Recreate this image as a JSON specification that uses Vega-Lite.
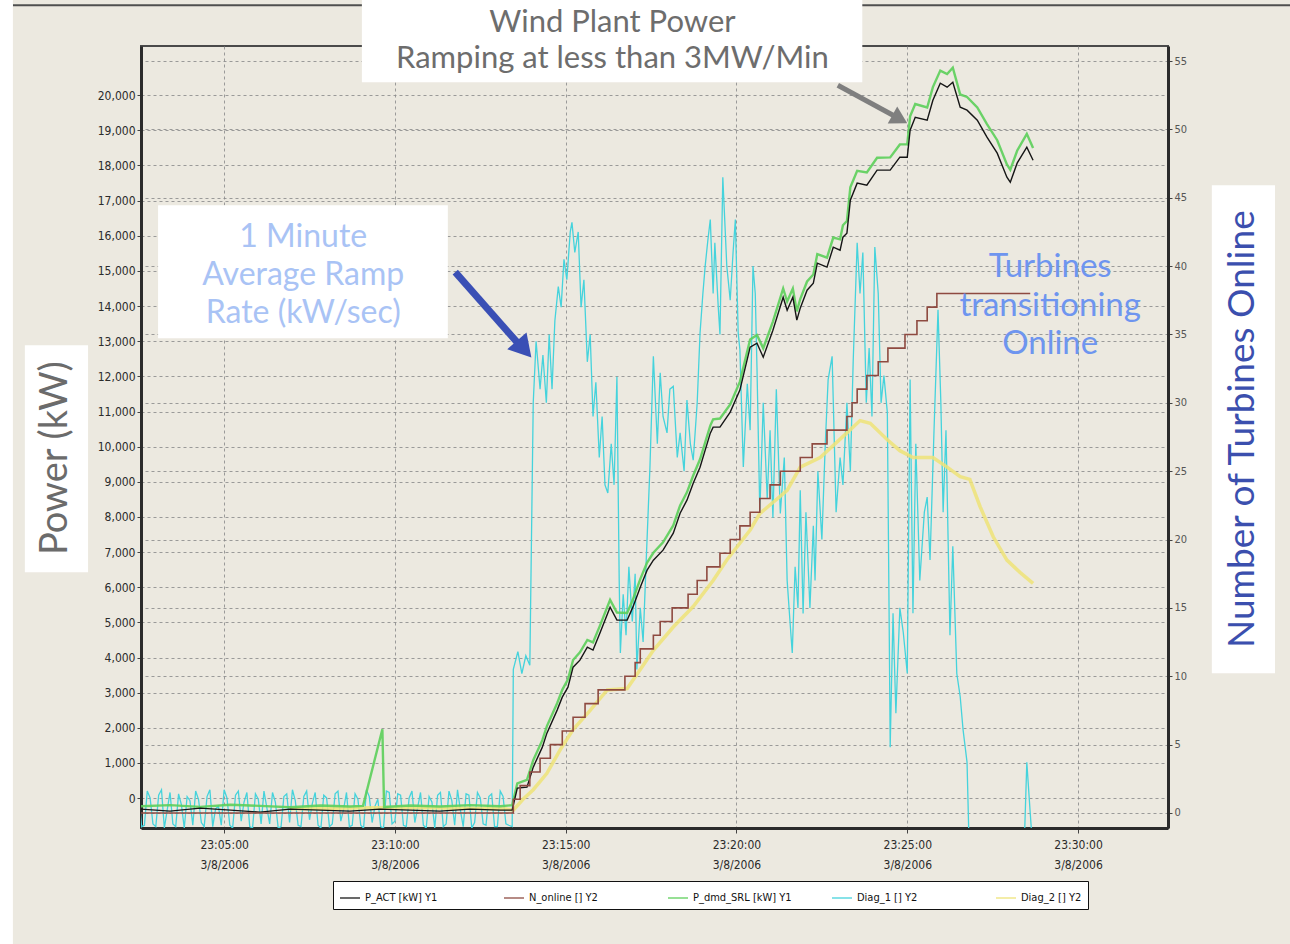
{
"$schema": "https://vega.github.io/schema/vega-lite/v6.json",
"width": 1027,
"height": 782,
"autosize": "none",
"padding": {"left": 141, "top": 46, "right": 122, "bottom": 116},
"background": "#ece9e0",
"config": {
  "view": {"fill": "#ece9e0", "stroke": "#4a4a4a", "strokeWidth": 2},
  "font": "Lato",
  "axis": {"labelFont": "DejaVu Sans Condensed, Liberation Sans, sans-serif", "labelColor": "#2b2b2b", "labelFontSize": 12, "tickColor": "#444444", "tickSize": 4, "domainColor": "#2b2b2b", "domainWidth": 3, "gridColor": "#8c8c8c", "gridDash": [3, 3], "gridOpacity": 0.85, "gridWidth": 1},
  "legend": {"orient": "none", "legendX": 192, "legendY": 835, "direction": "horizontal", "columns": 5, "gridAlign": "all", "columnPadding": 37, "fillColor": "#ffffff", "strokeColor": "#111111", "padding": 6, "symbolType": "stroke", "symbolSize": 400, "symbolStrokeWidth": 1.5, "labelFont": "DejaVu Sans Condensed, Liberation Sans, sans-serif", "labelFontSize": 11, "labelColor": "#111111", "labelLimit": 200},
  "text": {"lineBreak": "\n"}
},
"datasets": {
  "pact": [
    {"t":"2006-03-08T23:02:34","v":-313},{"t":"2006-03-08T23:03:25","v":-370},{"t":"2006-03-08T23:04:18","v":-285},{"t":"2006-03-08T23:05:11","v":-341},{"t":"2006-03-08T23:06:03","v":-398},{"t":"2006-03-08T23:06:56","v":-313},{"t":"2006-03-08T23:07:49","v":-341},{"t":"2006-03-08T23:08:41","v":-370},{"t":"2006-03-08T23:09:34","v":-313},{"t":"2006-03-08T23:10:27","v":-341},{"t":"2006-03-08T23:11:19","v":-370},{"t":"2006-03-08T23:12:12","v":-313},{"t":"2006-03-08T23:13:05","v":-341},{"t":"2006-03-08T23:13:26","v":-341},
    {"t":"2006-03-08T23:13:35","v":285},{"t":"2006-03-08T23:13:52","v":313},{"t":"2006-03-08T23:14:03","v":882},{"t":"2006-03-08T23:14:19","v":1451},{"t":"2006-03-08T23:14:27","v":1849},{"t":"2006-03-08T23:14:45","v":2504},{"t":"2006-03-08T23:14:54","v":2873},{"t":"2006-03-08T23:15:04","v":3158},{"t":"2006-03-08T23:15:13","v":3727},{"t":"2006-03-08T23:15:25","v":3926},{"t":"2006-03-08T23:15:38","v":4296},{"t":"2006-03-08T23:15:48","v":4211},{"t":"2006-03-08T23:16:00","v":4694},{"t":"2006-03-08T23:16:18","v":5434},{"t":"2006-03-08T23:16:30","v":5064},{"t":"2006-03-08T23:16:48","v":5064},{"t":"2006-03-08T23:16:58","v":5434},{"t":"2006-03-08T23:17:11","v":6003},{"t":"2006-03-08T23:17:23","v":6487},{"t":"2006-03-08T23:17:34","v":6771},{"t":"2006-03-08T23:17:51","v":7056},{"t":"2006-03-08T23:18:09","v":7539},{"t":"2006-03-08T23:18:21","v":8108},{"t":"2006-03-08T23:18:33","v":8478},{"t":"2006-03-08T23:18:44","v":8962},{"t":"2006-03-08T23:18:56","v":9417},{"t":"2006-03-08T23:19:14","v":10384},{"t":"2006-03-08T23:19:19","v":10555},{"t":"2006-03-08T23:19:31","v":10555},{"t":"2006-03-08T23:19:49","v":10982},{"t":"2006-03-08T23:20:06","v":11608},{"t":"2006-03-08T23:20:24","v":12831},{"t":"2006-03-08T23:20:36","v":12945},{"t":"2006-03-08T23:20:47","v":12546},{"t":"2006-03-08T23:21:04","v":13315},{"t":"2006-03-08T23:21:22","v":14253},{"t":"2006-03-08T23:21:29","v":13884},{"t":"2006-03-08T23:21:39","v":14253},{"t":"2006-03-08T23:21:46","v":13599},{"t":"2006-03-08T23:21:52","v":13941},{"t":"2006-03-08T23:22:04","v":14453},{"t":"2006-03-08T23:22:15","v":14652},{"t":"2006-03-08T23:22:22","v":15221},{"t":"2006-03-08T23:22:39","v":15107},{"t":"2006-03-08T23:22:50","v":15676},{"t":"2006-03-08T23:23:02","v":15591},{"t":"2006-03-08T23:23:07","v":15961},{"t":"2006-03-08T23:23:14","v":16074},{"t":"2006-03-08T23:23:20","v":17013},{"t":"2006-03-08T23:23:32","v":17497},{"t":"2006-03-08T23:23:49","v":17440},{"t":"2006-03-08T23:24:07","v":17867},{"t":"2006-03-08T23:24:30","v":17867},{"t":"2006-03-08T23:24:47","v":18236},{"t":"2006-03-08T23:25:00","v":18236},{"t":"2006-03-08T23:25:05","v":19005},{"t":"2006-03-08T23:25:14","v":19374},{"t":"2006-03-08T23:25:35","v":19289},{"t":"2006-03-08T23:25:45","v":19858},{"t":"2006-03-08T23:25:58","v":20342},{"t":"2006-03-08T23:26:10","v":20228},{"t":"2006-03-08T23:26:20","v":20370},{"t":"2006-03-08T23:26:33","v":19659},{"t":"2006-03-08T23:26:45","v":19574},{"t":"2006-03-08T23:27:03","v":19289},{"t":"2006-03-08T23:27:20","v":18805},{"t":"2006-03-08T23:27:38","v":18350},{"t":"2006-03-08T23:27:55","v":17667},{"t":"2006-03-08T23:28:01","v":17525},{"t":"2006-03-08T23:28:13","v":18066},{"t":"2006-03-08T23:28:30","v":18521},{"t":"2006-03-08T23:28:41","v":18151}
  ],
  "pdmd": [
    {"t":"2006-03-08T23:02:34","v":-230},{"t":"2006-03-08T23:03:25","v":-200},{"t":"2006-03-08T23:04:18","v":-250},{"t":"2006-03-08T23:05:11","v":-190},{"t":"2006-03-08T23:06:03","v":-220},{"t":"2006-03-08T23:06:56","v":-260},{"t":"2006-03-08T23:07:49","v":-210},{"t":"2006-03-08T23:08:41","v":-240},{"t":"2006-03-08T23:09:04","v":-220},{"t":"2006-03-08T23:09:38","v":1960},{"t":"2006-03-08T23:09:41","v":-250},{"t":"2006-03-08T23:10:27","v":-210},{"t":"2006-03-08T23:11:19","v":-240},{"t":"2006-03-08T23:12:12","v":-200},{"t":"2006-03-08T23:13:05","v":-230},{"t":"2006-03-08T23:13:26","v":-200},
    {"t":"2006-03-08T23:13:35","v":420},{"t":"2006-03-08T23:13:52","v":520},{"t":"2006-03-08T23:14:03","v":1080},{"t":"2006-03-08T23:14:19","v":1650},{"t":"2006-03-08T23:14:27","v":2050},{"t":"2006-03-08T23:14:45","v":2700},{"t":"2006-03-08T23:14:54","v":3080},{"t":"2006-03-08T23:15:04","v":3380},{"t":"2006-03-08T23:15:13","v":3930},{"t":"2006-03-08T23:15:25","v":4150},{"t":"2006-03-08T23:15:38","v":4500},{"t":"2006-03-08T23:15:48","v":4430},{"t":"2006-03-08T23:16:00","v":4900},{"t":"2006-03-08T23:16:18","v":5640},{"t":"2006-03-08T23:16:30","v":5280},{"t":"2006-03-08T23:16:48","v":5270},{"t":"2006-03-08T23:16:58","v":5650},{"t":"2006-03-08T23:17:11","v":6230},{"t":"2006-03-08T23:17:23","v":6700},{"t":"2006-03-08T23:17:34","v":6980},{"t":"2006-03-08T23:17:51","v":7280},{"t":"2006-03-08T23:18:09","v":7760},{"t":"2006-03-08T23:18:21","v":8330},{"t":"2006-03-08T23:18:33","v":8700},{"t":"2006-03-08T23:18:44","v":9180},{"t":"2006-03-08T23:18:56","v":9640},{"t":"2006-03-08T23:19:14","v":10600},{"t":"2006-03-08T23:19:19","v":10780},{"t":"2006-03-08T23:19:31","v":10800},{"t":"2006-03-08T23:19:49","v":11200},{"t":"2006-03-08T23:20:06","v":11850},{"t":"2006-03-08T23:20:24","v":13050},{"t":"2006-03-08T23:20:36","v":13180},{"t":"2006-03-08T23:20:47","v":12800},{"t":"2006-03-08T23:21:04","v":13560},{"t":"2006-03-08T23:21:22","v":14500},{"t":"2006-03-08T23:21:29","v":14130},{"t":"2006-03-08T23:21:39","v":14500},{"t":"2006-03-08T23:21:46","v":13850},{"t":"2006-03-08T23:21:52","v":14200},{"t":"2006-03-08T23:22:04","v":14700},{"t":"2006-03-08T23:22:15","v":14900},{"t":"2006-03-08T23:22:22","v":15480},{"t":"2006-03-08T23:22:39","v":15380},{"t":"2006-03-08T23:22:50","v":15950},{"t":"2006-03-08T23:23:02","v":15900},{"t":"2006-03-08T23:23:07","v":16300},{"t":"2006-03-08T23:23:14","v":16420},{"t":"2006-03-08T23:23:20","v":17380},{"t":"2006-03-08T23:23:32","v":17850},{"t":"2006-03-08T23:23:49","v":17800},{"t":"2006-03-08T23:24:07","v":18220},{"t":"2006-03-08T23:24:30","v":18230},{"t":"2006-03-08T23:24:47","v":18600},{"t":"2006-03-08T23:25:00","v":18600},{"t":"2006-03-08T23:25:05","v":19400},{"t":"2006-03-08T23:25:14","v":19750},{"t":"2006-03-08T23:25:35","v":19650},{"t":"2006-03-08T23:25:45","v":20230},{"t":"2006-03-08T23:25:58","v":20700},{"t":"2006-03-08T23:26:10","v":20600},{"t":"2006-03-08T23:26:20","v":20780},{"t":"2006-03-08T23:26:33","v":20020},{"t":"2006-03-08T23:26:45","v":19950},{"t":"2006-03-08T23:27:03","v":19650},{"t":"2006-03-08T23:27:20","v":19180},{"t":"2006-03-08T23:27:38","v":18720},{"t":"2006-03-08T23:27:55","v":18030},{"t":"2006-03-08T23:28:01","v":17880},{"t":"2006-03-08T23:28:13","v":18420},{"t":"2006-03-08T23:28:30","v":18900},{"t":"2006-03-08T23:28:41","v":18500}
  ],
  "online": [
    {"t":"2006-03-08T23:02:34","v":0},{"t":"2006-03-08T23:13:28","v":1},{"t":"2006-03-08T23:13:40","v":2},{"t":"2006-03-08T23:13:57","v":3},{"t":"2006-03-08T23:14:15","v":4},{"t":"2006-03-08T23:14:33","v":5},{"t":"2006-03-08T23:14:54","v":6},{"t":"2006-03-08T23:15:13","v":7},{"t":"2006-03-08T23:15:34","v":8},{"t":"2006-03-08T23:15:57","v":9},{"t":"2006-03-08T23:16:44","v":10},{"t":"2006-03-08T23:17:02","v":11},{"t":"2006-03-08T23:17:11","v":12},{"t":"2006-03-08T23:17:34","v":13},{"t":"2006-03-08T23:17:46","v":14},{"t":"2006-03-08T23:18:07","v":15},{"t":"2006-03-08T23:18:35","v":16},{"t":"2006-03-08T23:18:51","v":17},{"t":"2006-03-08T23:19:08","v":18},{"t":"2006-03-08T23:19:31","v":19},{"t":"2006-03-08T23:19:49","v":20},{"t":"2006-03-08T23:20:06","v":21},{"t":"2006-03-08T23:20:24","v":22},{"t":"2006-03-08T23:20:41","v":23},{"t":"2006-03-08T23:20:59","v":24},{"t":"2006-03-08T23:21:17","v":25},{"t":"2006-03-08T23:21:52","v":26},{"t":"2006-03-08T23:22:13","v":27},{"t":"2006-03-08T23:22:39","v":28},{"t":"2006-03-08T23:23:14","v":29},{"t":"2006-03-08T23:23:23","v":30},{"t":"2006-03-08T23:23:32","v":31},{"t":"2006-03-08T23:23:49","v":32},{"t":"2006-03-08T23:24:09","v":33},{"t":"2006-03-08T23:24:26","v":34},{"t":"2006-03-08T23:24:56","v":35},{"t":"2006-03-08T23:25:17","v":36},{"t":"2006-03-08T23:25:35","v":37},{"t":"2006-03-08T23:25:52","v":38},{"t":"2006-03-08T23:28:36","v":38}
  ],
  "diag2": [
    {"t":"2006-03-08T23:06:56","v":0.3},{"t":"2006-03-08T23:10:09","v":0.4},{"t":"2006-03-08T23:13:14","v":0.3},{"t":"2006-03-08T23:13:28","v":0.2},{"t":"2006-03-08T23:13:45","v":1.0},{"t":"2006-03-08T23:14:03","v":1.7},{"t":"2006-03-08T23:14:27","v":2.9},{"t":"2006-03-08T23:14:50","v":4.6},{"t":"2006-03-08T23:15:13","v":6.1},{"t":"2006-03-08T23:15:43","v":7.5},{"t":"2006-03-08T23:16:13","v":9.0},{"t":"2006-03-08T23:16:48","v":9.1},{"t":"2006-03-08T23:17:11","v":10.5},{"t":"2006-03-08T23:17:34","v":11.9},{"t":"2006-03-08T23:18:09","v":13.6},{"t":"2006-03-08T23:18:44","v":15.1},{"t":"2006-03-08T23:19:19","v":17.0},{"t":"2006-03-08T23:19:43","v":18.5},{"t":"2006-03-08T23:20:24","v":20.7},{"t":"2006-03-08T23:20:41","v":21.9},{"t":"2006-03-08T23:21:29","v":23.6},{"t":"2006-03-08T23:21:52","v":25.3},{"t":"2006-03-08T23:22:27","v":26.0},{"t":"2006-03-08T23:23:14","v":27.8},{"t":"2006-03-08T23:23:37","v":28.7},{"t":"2006-03-08T23:23:55","v":28.5},{"t":"2006-03-08T23:24:25","v":27.3},{"t":"2006-03-08T23:24:47","v":26.5},{"t":"2006-03-08T23:25:10","v":26.0},{"t":"2006-03-08T23:25:45","v":26.0},{"t":"2006-03-08T23:26:10","v":25.3},{"t":"2006-03-08T23:26:33","v":24.6},{"t":"2006-03-08T23:26:50","v":24.4},{"t":"2006-03-08T23:27:08","v":22.4},{"t":"2006-03-08T23:27:31","v":20.2},{"t":"2006-03-08T23:27:55","v":18.5},{"t":"2006-03-08T23:28:18","v":17.6},{"t":"2006-03-08T23:28:41","v":16.8}
  ],
  "diag1": [
    {"t":"2006-03-08T23:02:30","v":1.5},{"t":"2006-03-08T23:02:35","v":-1.0},{"t":"2006-03-08T23:02:40","v":-0.9},{"t":"2006-03-08T23:02:45","v":1.6},{"t":"2006-03-08T23:02:50","v":1.1},{"t":"2006-03-08T23:02:55","v":-0.8},{"t":"2006-03-08T23:03:00","v":-1.0},{"t":"2006-03-08T23:03:05","v":1.3},{"t":"2006-03-08T23:03:10","v":1.7},{"t":"2006-03-08T23:03:15","v":-1.1},{"t":"2006-03-08T23:03:20","v":0.2},{"t":"2006-03-08T23:03:25","v":1.5},{"t":"2006-03-08T23:03:30","v":-0.8},{"t":"2006-03-08T23:03:35","v":-1.0},{"t":"2006-03-08T23:03:40","v":1.4},{"t":"2006-03-08T23:03:45","v":0.6},{"t":"2006-03-08T23:03:50","v":-1.1},{"t":"2006-03-08T23:03:55","v":1.2},{"t":"2006-03-08T23:04:00","v":0.9},{"t":"2006-03-08T23:04:05","v":-0.9},{"t":"2006-03-08T23:04:10","v":1.6},{"t":"2006-03-08T23:04:15","v":1.0},{"t":"2006-03-08T23:04:20","v":-0.7},{"t":"2006-03-08T23:04:25","v":-1.0},{"t":"2006-03-08T23:04:30","v":1.2},{"t":"2006-03-08T23:04:35","v":1.7},{"t":"2006-03-08T23:04:40","v":-1.0},{"t":"2006-03-08T23:04:45","v":0.3},{"t":"2006-03-08T23:04:50","v":0.5},{"t":"2006-03-08T23:04:55","v":-0.9},{"t":"2006-03-08T23:05:00","v":1.7},{"t":"2006-03-08T23:05:05","v":1.1},{"t":"2006-03-08T23:05:10","v":-0.9},{"t":"2006-03-08T23:05:15","v":-1.1},{"t":"2006-03-08T23:05:20","v":1.3},{"t":"2006-03-08T23:05:25","v":1.6},{"t":"2006-03-08T23:05:30","v":-0.6},{"t":"2006-03-08T23:05:35","v":0.8},{"t":"2006-03-08T23:05:40","v":1.5},{"t":"2006-03-08T23:05:45","v":-1.0},{"t":"2006-03-08T23:05:50","v":-1.1},{"t":"2006-03-08T23:05:55","v":1.4},{"t":"2006-03-08T23:06:00","v":1.0},{"t":"2006-03-08T23:06:05","v":-0.8},{"t":"2006-03-08T23:06:10","v":1.6},{"t":"2006-03-08T23:06:15","v":0.4},{"t":"2006-03-08T23:06:20","v":-0.8},{"t":"2006-03-08T23:06:25","v":1.5},{"t":"2006-03-08T23:06:30","v":0.8},{"t":"2006-03-08T23:06:35","v":-1.1},{"t":"2006-03-08T23:06:40","v":-1.0},{"t":"2006-03-08T23:06:45","v":1.2},{"t":"2006-03-08T23:06:50","v":1.4},{"t":"2006-03-08T23:06:55","v":-0.7},{"t":"2006-03-08T23:07:00","v":1.7},{"t":"2006-03-08T23:07:05","v":0.9},{"t":"2006-03-08T23:07:10","v":-0.9},{"t":"2006-03-08T23:07:15","v":-1.0},{"t":"2006-03-08T23:07:20","v":1.2},{"t":"2006-03-08T23:07:25","v":1.6},{"t":"2006-03-08T23:07:30","v":-0.5},{"t":"2006-03-08T23:07:35","v":0.7},{"t":"2006-03-08T23:07:40","v":1.5},{"t":"2006-03-08T23:07:45","v":-0.9},{"t":"2006-03-08T23:07:50","v":-1.1},{"t":"2006-03-08T23:07:55","v":1.3},{"t":"2006-03-08T23:08:00","v":1.1},{"t":"2006-03-08T23:08:05","v":-1.0},{"t":"2006-03-08T23:08:10","v":-0.8},{"t":"2006-03-08T23:08:15","v":1.4},{"t":"2006-03-08T23:08:20","v":1.6},{"t":"2006-03-08T23:08:25","v":-0.6},{"t":"2006-03-08T23:08:30","v":0.3},{"t":"2006-03-08T23:08:35","v":1.5},{"t":"2006-03-08T23:08:40","v":-1.0},{"t":"2006-03-08T23:08:45","v":-0.9},{"t":"2006-03-08T23:08:50","v":1.4},{"t":"2006-03-08T23:08:55","v":1.0},{"t":"2006-03-08T23:09:00","v":-0.9},{"t":"2006-03-08T23:09:05","v":-1.1},{"t":"2006-03-08T23:09:10","v":1.7},{"t":"2006-03-08T23:09:15","v":1.2},{"t":"2006-03-08T23:09:20","v":-0.7},{"t":"2006-03-08T23:09:25","v":0.5},{"t":"2006-03-08T23:09:30","v":1.0},{"t":"2006-03-08T23:09:35","v":-1.0},{"t":"2006-03-08T23:09:40","v":-1.1},{"t":"2006-03-08T23:09:45","v":1.6},{"t":"2006-03-08T23:09:50","v":1.5},{"t":"2006-03-08T23:09:55","v":-0.8},{"t":"2006-03-08T23:10:00","v":-0.6},{"t":"2006-03-08T23:10:05","v":1.4},{"t":"2006-03-08T23:10:10","v":1.3},{"t":"2006-03-08T23:10:15","v":-0.9},{"t":"2006-03-08T23:10:20","v":-1.0},{"t":"2006-03-08T23:10:25","v":1.1},{"t":"2006-03-08T23:10:30","v":1.6},{"t":"2006-03-08T23:10:35","v":-0.7},{"t":"2006-03-08T23:10:40","v":0.4},{"t":"2006-03-08T23:10:45","v":1.5},{"t":"2006-03-08T23:10:50","v":-0.9},{"t":"2006-03-08T23:10:55","v":-1.1},{"t":"2006-03-08T23:11:00","v":1.2},{"t":"2006-03-08T23:11:05","v":0.8},{"t":"2006-03-08T23:11:10","v":-1.1},{"t":"2006-03-08T23:11:15","v":1.3},{"t":"2006-03-08T23:11:20","v":1.5},{"t":"2006-03-08T23:11:25","v":-1.0},{"t":"2006-03-08T23:11:30","v":-0.8},{"t":"2006-03-08T23:11:35","v":1.6},{"t":"2006-03-08T23:11:40","v":0.9},{"t":"2006-03-08T23:11:45","v":-0.9},{"t":"2006-03-08T23:11:50","v":1.7},{"t":"2006-03-08T23:11:55","v":0.2},{"t":"2006-03-08T23:12:00","v":-1.0},{"t":"2006-03-08T23:12:05","v":1.4},{"t":"2006-03-08T23:12:10","v":1.3},{"t":"2006-03-08T23:12:15","v":-1.1},{"t":"2006-03-08T23:12:20","v":-0.7},{"t":"2006-03-08T23:12:25","v":1.5},{"t":"2006-03-08T23:12:30","v":1.1},{"t":"2006-03-08T23:12:35","v":-0.8},{"t":"2006-03-08T23:12:40","v":-0.9},{"t":"2006-03-08T23:12:45","v":1.2},{"t":"2006-03-08T23:12:50","v":1.4},{"t":"2006-03-08T23:12:55","v":-1.0},{"t":"2006-03-08T23:13:00","v":-1.0},{"t":"2006-03-08T23:13:05","v":1.6},{"t":"2006-03-08T23:13:10","v":1.2},{"t":"2006-03-08T23:13:15","v":-0.8},{"t":"2006-03-08T23:13:20","v":-0.9},
    {"t":"2006-03-08T23:13:26","v":-1.0},{"t":"2006-03-08T23:13:28","v":10.5},{"t":"2006-03-08T23:13:36","v":11.8},{"t":"2006-03-08T23:13:43","v":10.2},{"t":"2006-03-08T23:13:50","v":11.5},{"t":"2006-03-08T23:13:57","v":10.8},{"t":"2006-03-08T23:14:03","v":30},{"t":"2006-03-08T23:14:08","v":34.5},{"t":"2006-03-08T23:14:15","v":31},{"t":"2006-03-08T23:14:20","v":33.5},{"t":"2006-03-08T23:14:26","v":30},{"t":"2006-03-08T23:14:31","v":35},{"t":"2006-03-08T23:14:36","v":31},{"t":"2006-03-08T23:14:41","v":36},{"t":"2006-03-08T23:14:47","v":38.5},{"t":"2006-03-08T23:14:52","v":37},{"t":"2006-03-08T23:14:57","v":40.5},{"t":"2006-03-08T23:15:02","v":39},{"t":"2006-03-08T23:15:08","v":42.5},{"t":"2006-03-08T23:15:11","v":43.2},{"t":"2006-03-08T23:15:16","v":41},{"t":"2006-03-08T23:15:22","v":42.5},{"t":"2006-03-08T23:15:27","v":37},{"t":"2006-03-08T23:15:32","v":39},{"t":"2006-03-08T23:15:38","v":33},{"t":"2006-03-08T23:15:43","v":35},{"t":"2006-03-08T23:15:48","v":29},{"t":"2006-03-08T23:15:53","v":31.5},{"t":"2006-03-08T23:15:59","v":26},{"t":"2006-03-08T23:16:04","v":29},{"t":"2006-03-08T23:16:09","v":24},{"t":"2006-03-08T23:16:14","v":23.4},{"t":"2006-03-08T23:16:20","v":27},{"t":"2006-03-08T23:16:25","v":24},{"t":"2006-03-08T23:16:30","v":31.9},{"t":"2006-03-08T23:16:34","v":17},{"t":"2006-03-08T23:16:36","v":11.7},{"t":"2006-03-08T23:16:41","v":16},{"t":"2006-03-08T23:16:46","v":13},{"t":"2006-03-08T23:16:51","v":18},{"t":"2006-03-08T23:16:57","v":14},{"t":"2006-03-08T23:17:02","v":17.5},{"t":"2006-03-08T23:17:05","v":10.5},{"t":"2006-03-08T23:17:11","v":15},{"t":"2006-03-08T23:17:16","v":12.5},{"t":"2006-03-08T23:17:21","v":18},{"t":"2006-03-08T23:17:28","v":25.3},{"t":"2006-03-08T23:17:34","v":33.4},{"t":"2006-03-08T23:17:41","v":27},{"t":"2006-03-08T23:17:46","v":32.2},{"t":"2006-03-08T23:17:51","v":29},{"t":"2006-03-08T23:17:58","v":27.8},{"t":"2006-03-08T23:18:03","v":31},{"t":"2006-03-08T23:18:09","v":31.2},{"t":"2006-03-08T23:18:16","v":26},{"t":"2006-03-08T23:18:21","v":27.8},{"t":"2006-03-08T23:18:28","v":25},{"t":"2006-03-08T23:18:33","v":30.2},{"t":"2006-03-08T23:18:39","v":27},{"t":"2006-03-08T23:18:44","v":25.8},{"t":"2006-03-08T23:18:51","v":30},{"t":"2006-03-08T23:18:56","v":35.1},{"t":"2006-03-08T23:19:01","v":38},{"t":"2006-03-08T23:19:05","v":40},{"t":"2006-03-08T23:19:10","v":42},{"t":"2006-03-08T23:19:14","v":43.4},{"t":"2006-03-08T23:19:19","v":38},{"t":"2006-03-08T23:19:22","v":41.7},{"t":"2006-03-08T23:19:28","v":37},{"t":"2006-03-08T23:19:31","v":35},{"t":"2006-03-08T23:19:36","v":46.5},{"t":"2006-03-08T23:19:43","v":40},{"t":"2006-03-08T23:19:49","v":37.5},{"t":"2006-03-08T23:19:54","v":41},{"t":"2006-03-08T23:19:58","v":43.4},{"t":"2006-03-08T23:20:03","v":35.1},{"t":"2006-03-08T23:20:06","v":33.9},{"t":"2006-03-08T23:20:12","v":25.3},{"t":"2006-03-08T23:20:19","v":31.4},{"t":"2006-03-08T23:20:24","v":28},{"t":"2006-03-08T23:20:29","v":40},{"t":"2006-03-08T23:20:33","v":38},{"t":"2006-03-08T23:20:36","v":32.6},{"t":"2006-03-08T23:20:41","v":22},{"t":"2006-03-08T23:20:47","v":30},{"t":"2006-03-08T23:20:54","v":23},{"t":"2006-03-08T23:20:59","v":28},{"t":"2006-03-08T23:21:04","v":21.6},{"t":"2006-03-08T23:21:10","v":31},{"t":"2006-03-08T23:21:17","v":21.9},{"t":"2006-03-08T23:21:24","v":26},{"t":"2006-03-08T23:21:29","v":17},{"t":"2006-03-08T23:21:34","v":14},{"t":"2006-03-08T23:21:38","v":11.7},{"t":"2006-03-08T23:21:43","v":18},{"t":"2006-03-08T23:21:48","v":15},{"t":"2006-03-08T23:21:52","v":23.6},{"t":"2006-03-08T23:21:57","v":14.6},{"t":"2006-03-08T23:22:02","v":22},{"t":"2006-03-08T23:22:09","v":15},{"t":"2006-03-08T23:22:15","v":21},{"t":"2006-03-08T23:22:18","v":17},{"t":"2006-03-08T23:22:23","v":25},{"t":"2006-03-08T23:22:30","v":20},{"t":"2006-03-08T23:22:36","v":27},{"t":"2006-03-08T23:22:41","v":31.7},{"t":"2006-03-08T23:22:48","v":33.4},{"t":"2006-03-08T23:22:55","v":22},{"t":"2006-03-08T23:23:02","v":26},{"t":"2006-03-08T23:23:07","v":24},{"t":"2006-03-08T23:23:14","v":30},{"t":"2006-03-08T23:23:20","v":25},{"t":"2006-03-08T23:23:25","v":33},{"t":"2006-03-08T23:23:32","v":41.7},{"t":"2006-03-08T23:23:37","v":38},{"t":"2006-03-08T23:23:42","v":41},{"t":"2006-03-08T23:23:48","v":30},{"t":"2006-03-08T23:23:53","v":34},{"t":"2006-03-08T23:23:58","v":29},{"t":"2006-03-08T23:24:03","v":41.4},{"t":"2006-03-08T23:24:09","v":38},{"t":"2006-03-08T23:24:14","v":30},{"t":"2006-03-08T23:24:19","v":32},{"t":"2006-03-08T23:24:25","v":29.3},{"t":"2006-03-08T23:24:28","v":15},{"t":"2006-03-08T23:24:30","v":4.8},{"t":"2006-03-08T23:24:35","v":14.6},{"t":"2006-03-08T23:24:40","v":7.3},{"t":"2006-03-08T23:24:47","v":15},{"t":"2006-03-08T23:24:53","v":13.2},{"t":"2006-03-08T23:25:00","v":10.2},{"t":"2006-03-08T23:25:05","v":31.7},{"t":"2006-03-08T23:25:10","v":14.6},{"t":"2006-03-08T23:25:15","v":27},{"t":"2006-03-08T23:25:22","v":17},{"t":"2006-03-08T23:25:30","v":22},{"t":"2006-03-08T23:25:35","v":23.1},{"t":"2006-03-08T23:25:40","v":18.5},{"t":"2006-03-08T23:25:47","v":28},{"t":"2006-03-08T23:25:54","v":36.8},{"t":"2006-03-08T23:25:59","v":30},{"t":"2006-03-08T23:26:03","v":22},{"t":"2006-03-08T23:26:08","v":28},{"t":"2006-03-08T23:26:15","v":13},{"t":"2006-03-08T23:26:20","v":19.5},{"t":"2006-03-08T23:26:27","v":10.2},{"t":"2006-03-08T23:26:33","v":8.5},{"t":"2006-03-08T23:26:38","v":6.1},{"t":"2006-03-08T23:26:45","v":3.7},{"t":"2006-03-08T23:26:49","v":-3},{"t":"2006-03-08T23:27:25","v":-5},{"t":"2006-03-08T23:28:25","v":-3},{"t":"2006-03-08T23:28:30","v":3.7},{"t":"2006-03-08T23:28:36","v":0},{"t":"2006-03-08T23:28:41","v":-3}
  ],
  "boxes": [
    {"id":"edge","t":"2006-03-08T22:58:10","t2":"2006-03-08T22:58:49","v":23000,"v2":-4500},
    {"id":"title","t":"2006-03-08T23:09:02","t2":"2006-03-08T23:23:41","v":22800,"v2":20370},
    {"id":"ramp","t":"2006-03-08T23:03:04","t2":"2006-03-08T23:11:33","v":16871,"v2":13087},
    {"id":"power","t":"2006-03-08T22:59:10","t2":"2006-03-08T23:01:01","v":12888,"v2":6430},
    {"id":"count","t":"2006-03-08T23:33:55","t2":"2006-03-08T23:35:46","v":17440,"v2":3556}
  ],
  "frame": [
    {"t":"2006-03-08T22:58:49","t2":"2006-03-08T23:36:40","v":22561}
  ],
  "notes": [
    {"id":"title","t":"2006-03-08T23:16:22","v":22049,"label":"Wind Plant Power\nRamping at less than 3MW/Min"},
    {"id":"ramp","t":"2006-03-08T23:07:19","v":15960,"label":"1 Minute\nAverage Ramp\nRate (kW/sec)"},
    {"id":"turb","t":"2006-03-08T23:29:11","v":15107,"label":"Turbines\ntransitioning\nOnline"},
    {"id":"power","t":"2006-03-08T23:00:05","v":9673,"label":"Power (kW)"},
    {"id":"count","t":"2006-03-08T23:34:50","v":10498,"label":"Number of Turbines Online"}
  ],
  "arrows": [
    {"id":"gray","t":"2006-03-08T23:22:58","v":20285,"t2":"2006-03-08T23:24:35","v2":19431},
    {"id":"blue","t":"2006-03-08T23:11:46","v":14965,"t2":"2006-03-08T23:13:36","v2":12945}
  ],
  "heads": [
    {"id":"gray","t":"2006-03-08T23:24:47","v":19318},
    {"id":"blue","t":"2006-03-08T23:13:47","v":12774}
  ]
},
"encoding": {
  "x": {"field": "t", "type": "temporal",
    "scale": {"domain": [{"year":2006,"month":3,"date":8,"hours":23,"minutes":2,"seconds":34},{"year":2006,"month":3,"date":8,"hours":23,"minutes":32,"seconds":38}]},
    "axis": {"title": null,
      "values": [{"year":2006,"month":3,"date":8,"hours":23,"minutes":5},{"year":2006,"month":3,"date":8,"hours":23,"minutes":10},{"year":2006,"month":3,"date":8,"hours":23,"minutes":15},{"year":2006,"month":3,"date":8,"hours":23,"minutes":20},{"year":2006,"month":3,"date":8,"hours":23,"minutes":25},{"year":2006,"month":3,"date":8,"hours":23,"minutes":30}],
      "labelExpr": "[timeFormat(datum.value, '%H:%M:%S'), timeFormat(datum.value, '%-m/%-d/%Y')]",
      "labelLineHeight": 20, "labelPadding": 6, "tickSize": 5, "grid": true, "labelFlush": false, "labelOverlap": false}}
},
"layer": [
  {
    "encoding": {
      "y": {"field": "v", "type": "quantitative", "scale": {"domain": [-1.1, 56.1], "nice": false, "zero": false},
        "axis": {"orient": "right", "title": null, "values": [0,5,10,15,20,25,30,35,40,45,50,55], "labelColor": "#555555", "labelFontSize": 11, "grid": true}}
    },
    "layer": [
      {"data": {"name": "diag1"}, "mark": {"type": "line", "strokeWidth": 1.3, "clip": true},
       "encoding": {"color": {"datum": "Diag_1 [] Y2", "type": "nominal", "title": null, "scale": {"domain": ["P_ACT [kW] Y1","N_online [] Y2","P_dmd_SRL [kW] Y1","Diag_1 [] Y2","Diag_2 [] Y2"], "range": ["#151515","#8e4a40","#5ccf5a","#45d3dc","#efe377"]}}}},
      {"data": {"name": "diag2"}, "mark": {"type": "line", "strokeWidth": 3.5, "opacity": 0.85},
       "encoding": {"color": {"datum": "Diag_2 [] Y2", "type": "nominal", "title": null, "scale": {"domain": ["P_ACT [kW] Y1","N_online [] Y2","P_dmd_SRL [kW] Y1","Diag_1 [] Y2","Diag_2 [] Y2"], "range": ["#151515","#8e4a40","#5ccf5a","#45d3dc","#efe377"]}}}}
    ]
  },
  {
    "encoding": {
      "y": {"field": "v", "type": "quantitative", "scale": {"domain": [-850, 21400], "nice": false, "zero": false},
        "axis": {"orient": "left", "title": null, "values": [0,1000,2000,3000,4000,5000,6000,7000,8000,9000,10000,11000,12000,13000,14000,15000,16000,17000,18000,19000,20000], "format": ",.0f", "grid": true}}
    },
    "layer": [
      {"data": {"name": "pdmd"}, "mark": {"type": "line", "strokeWidth": 2.4, "opacity": 0.9},
       "encoding": {"color": {"datum": "P_dmd_SRL [kW] Y1", "type": "nominal", "title": null, "scale": {"domain": ["P_ACT [kW] Y1","N_online [] Y2","P_dmd_SRL [kW] Y1","Diag_1 [] Y2","Diag_2 [] Y2"], "range": ["#151515","#8e4a40","#5ccf5a","#45d3dc","#efe377"]}}}},
      {"data": {"name": "pact"}, "mark": {"type": "line", "strokeWidth": 1.4},
       "encoding": {"color": {"datum": "P_ACT [kW] Y1", "type": "nominal", "title": null, "scale": {"domain": ["P_ACT [kW] Y1","N_online [] Y2","P_dmd_SRL [kW] Y1","Diag_1 [] Y2","Diag_2 [] Y2"], "range": ["#151515","#8e4a40","#5ccf5a","#45d3dc","#efe377"]}}}}
    ]
  },
  {
    "data": {"name": "online"},
    "mark": {"type": "line", "strokeWidth": 1.6, "interpolate": "step-after"},
    "encoding": {
      "y": {"field": "v", "type": "quantitative", "scale": {"domain": [-1.1, 56.1], "nice": false, "zero": false}, "axis": null},
      "color": {"datum": "N_online [] Y2", "type": "nominal", "title": null, "scale": {"domain": ["P_ACT [kW] Y1","N_online [] Y2","P_dmd_SRL [kW] Y1","Diag_1 [] Y2","Diag_2 [] Y2"], "range": ["#151515","#8e4a40","#5ccf5a","#45d3dc","#efe377"]}}
    }
  },
  {
    "encoding": {
      "y": {"field": "v", "type": "quantitative", "scale": {"domain": [-850, 21400], "nice": false, "zero": false}, "axis": null}
    },
    "layer": [
      {"data": {"name": "frame"}, "mark": {"type": "rule", "color": "#4f4f4f", "strokeWidth": 2},
       "encoding": {"x2": {"field": "t2"}}},
      {"data": {"name": "boxes"}, "mark": {"type": "rect", "fill": "#ffffff"},
       "encoding": {"x2": {"field": "t2"}, "y2": {"field": "v2"}}},
      {"data": {"name": "notes"}, "transform": [{"filter": "datum.id == 'title'"}],
       "mark": {"type": "text", "font": "Lato", "fontSize": 31, "color": "#6d6d6d", "lineHeight": 36, "align": "center", "baseline": "middle"},
       "encoding": {"text": {"field": "label"}}},
      {"data": {"name": "notes"}, "transform": [{"filter": "datum.id == 'ramp'"}],
       "mark": {"type": "text", "font": "Lato", "fontSize": 32, "color": "#a9c3f5", "lineHeight": 38, "align": "center", "baseline": "middle"},
       "encoding": {"text": {"field": "label"}}},
      {"data": {"name": "notes"}, "transform": [{"filter": "datum.id == 'turb'"}],
       "mark": {"type": "text", "font": "Lato", "fontSize": 33, "color": "#6e95ef", "lineHeight": 38.5, "align": "center", "baseline": "middle"},
       "encoding": {"text": {"field": "label"}}},
      {"data": {"name": "notes"}, "transform": [{"filter": "datum.id == 'power'"}],
       "mark": {"type": "text", "font": "Lato", "fontSize": 38, "color": "#6b6b6b", "angle": 270, "align": "center", "baseline": "middle"},
       "encoding": {"text": {"field": "label"}}},
      {"data": {"name": "notes"}, "transform": [{"filter": "datum.id == 'count'"}],
       "mark": {"type": "text", "font": "Lato", "fontSize": 37, "color": "#3b4fae", "angle": 270, "align": "center", "baseline": "middle"},
       "encoding": {"text": {"field": "label"}}},
      {"data": {"name": "arrows"}, "transform": [{"filter": "datum.id == 'gray'"}],
       "mark": {"type": "rule", "color": "#7f7f7f", "strokeWidth": 5},
       "encoding": {"x2": {"field": "t2"}, "y2": {"field": "v2"}}},
      {"data": {"name": "heads"}, "transform": [{"filter": "datum.id == 'gray'"}],
       "mark": {"type": "point", "shape": "triangle-up", "filled": true, "color": "#7f7f7f", "opacity": 1, "size": 380, "angle": 119}},
      {"data": {"name": "arrows"}, "transform": [{"filter": "datum.id == 'blue'"}],
       "mark": {"type": "rule", "color": "#3a4fb5", "strokeWidth": 7},
       "encoding": {"x2": {"field": "t2"}, "y2": {"field": "v2"}}},
      {"data": {"name": "heads"}, "transform": [{"filter": "datum.id == 'blue'"}],
       "mark": {"type": "point", "shape": "triangle-up", "filled": true, "color": "#3a4fb5", "opacity": 1, "size": 650, "angle": 139}}
    ]
  }
],
"resolve": {"scale": {"y": "independent"}, "axis": {"y": "independent"}}
}
